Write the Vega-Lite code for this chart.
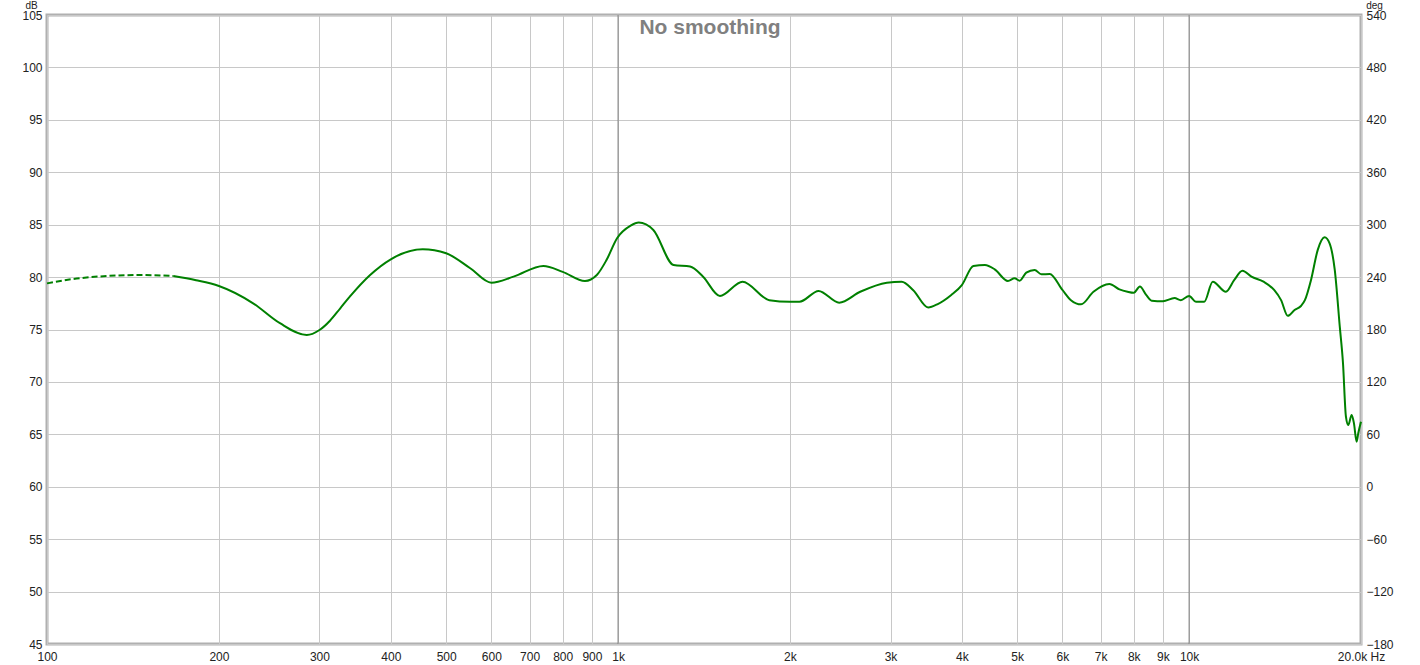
{
  "$schema": "https://vega.github.io/schema/vega-lite/v6.json",
  "width": 1314,
  "height": 629,
  "autosize": "none",
  "padding": {"left": 47, "top": 15, "right": 59, "bottom": 21},
  "background": "white",
  "config": {
    "font": "Liberation Sans",
    "view": {"stroke": "#b0b0b0", "strokeWidth": 3}
  },
  "title": {
    "text": "No smoothing",
    "fontSize": 21,
    "fontWeight": "bold",
    "color": "#808080",
    "font": "Liberation Sans",
    "anchor": "middle",
    "dx": 6,
    "offset": -38
  },
  "datasets": {
    "dashed": [
      {"f": 100, "db": 79.4},
      {"f": 111.2, "db": 79.82},
      {"f": 127.2, "db": 80.1},
      {"f": 145.5, "db": 80.2},
      {"f": 166.4, "db": 80.1}
    ],
    "solid": [
      {"f": 166.4, "db": 80.1},
      {"f": 182.4, "db": 79.7},
      {"f": 200, "db": 79.15},
      {"f": 229.6, "db": 77.5},
      {"f": 255.8, "db": 75.6},
      {"f": 285, "db": 74.47},
      {"f": 300, "db": 74.95},
      {"f": 313, "db": 75.84},
      {"f": 326, "db": 77.0},
      {"f": 339, "db": 78.13},
      {"f": 368, "db": 80.2},
      {"f": 400, "db": 81.7},
      {"f": 455, "db": 82.65},
      {"f": 500, "db": 82.27},
      {"f": 551, "db": 80.84},
      {"f": 600, "db": 79.46},
      {"f": 656, "db": 80.04},
      {"f": 740, "db": 81.06},
      {"f": 800, "db": 80.5},
      {"f": 875, "db": 79.63},
      {"f": 918, "db": 80.2},
      {"f": 954, "db": 81.6},
      {"f": 996, "db": 83.7},
      {"f": 1052, "db": 84.9},
      {"f": 1087, "db": 85.2},
      {"f": 1153, "db": 84.49},
      {"f": 1251, "db": 81.15},
      {"f": 1337, "db": 81.0},
      {"f": 1409, "db": 80.04},
      {"f": 1508, "db": 78.2},
      {"f": 1652, "db": 79.56},
      {"f": 1840, "db": 77.8},
      {"f": 2000, "db": 77.65},
      {"f": 2078, "db": 77.65},
      {"f": 2245, "db": 78.67},
      {"f": 2439, "db": 77.56},
      {"f": 2655, "db": 78.6},
      {"f": 2956, "db": 79.46},
      {"f": 3138, "db": 79.56},
      {"f": 3288, "db": 78.75},
      {"f": 3492, "db": 77.1},
      {"f": 3630, "db": 77.43},
      {"f": 3833, "db": 78.3},
      {"f": 4000, "db": 79.24},
      {"f": 4191, "db": 81.06},
      {"f": 4390, "db": 81.15},
      {"f": 4566, "db": 80.74},
      {"f": 4816, "db": 79.63},
      {"f": 4948, "db": 79.88},
      {"f": 5050, "db": 79.65},
      {"f": 5186, "db": 80.42},
      {"f": 5364, "db": 80.68},
      {"f": 5513, "db": 80.26},
      {"f": 5700, "db": 80.3},
      {"f": 6000, "db": 78.77},
      {"f": 6210, "db": 77.8},
      {"f": 6470, "db": 77.4},
      {"f": 6800, "db": 78.6},
      {"f": 7250, "db": 79.34},
      {"f": 7550, "db": 78.83},
      {"f": 7800, "db": 78.6},
      {"f": 8000, "db": 78.5},
      {"f": 8200, "db": 79.1},
      {"f": 8410, "db": 78.3},
      {"f": 8600, "db": 77.75},
      {"f": 9000, "db": 77.7},
      {"f": 9430, "db": 78.0},
      {"f": 9670, "db": 77.8},
      {"f": 10000, "db": 78.2},
      {"f": 10280, "db": 77.65},
      {"f": 10630, "db": 77.65},
      {"f": 11000, "db": 79.56},
      {"f": 11600, "db": 78.6},
      {"f": 12000, "db": 79.73},
      {"f": 12400, "db": 80.6},
      {"f": 12860, "db": 80.04},
      {"f": 13500, "db": 79.56},
      {"f": 14090, "db": 78.77},
      {"f": 14490, "db": 77.8},
      {"f": 14890, "db": 76.3},
      {"f": 15300, "db": 76.86},
      {"f": 15700, "db": 77.24},
      {"f": 15950, "db": 77.8},
      {"f": 16350, "db": 79.73},
      {"f": 16800, "db": 82.6},
      {"f": 17270, "db": 83.8},
      {"f": 17620, "db": 83.22},
      {"f": 17990, "db": 80.7},
      {"f": 18360, "db": 75.27},
      {"f": 18600, "db": 71.77},
      {"f": 18820, "db": 66.7},
      {"f": 19000, "db": 65.9},
      {"f": 19260, "db": 66.85},
      {"f": 19440, "db": 66.05},
      {"f": 19650, "db": 64.3},
      {"f": 19780, "db": 65.1},
      {"f": 20000, "db": 66.2}
    ],
    "marks": [{"f": 1000}, {"f": 10000}],
    "deg": [{"deg": -180}, {"deg": 540}]
  },
  "layer": [
    {
      "layer": [
        {
          "data": {"name": "marks"},
          "mark": {"type": "rule", "color": "#808080", "strokeWidth": 1},
          "encoding": {
            "x": {"field": "f", "type": "quantitative", "scale": {"type": "log", "domain": [100, 20000], "nice": false}}
          }
        },
        {
          "data": {"name": "dashed"},
          "mark": {"type": "line", "color": "#008000", "strokeWidth": 2, "strokeDash": [6, 3], "interpolate": "monotone"},
          "encoding": {
            "x": {"field": "f", "type": "quantitative", "scale": {"type": "log", "domain": [100, 20000], "nice": false}},
            "y": {"field": "db", "type": "quantitative"}
          }
        },
        {
          "data": {"name": "solid"},
          "mark": {"type": "line", "color": "#008000", "strokeWidth": 2, "interpolate": "monotone"},
          "encoding": {
            "x": {
              "field": "f",
              "type": "quantitative",
              "scale": {"type": "log", "domain": [100, 20000], "nice": false},
              "axis": {
                "title": null,
                "values": [100, 200, 300, 400, 500, 600, 700, 800, 900, 1000, 2000, 3000, 4000, 5000, 6000, 7000, 8000, 9000, 10000, 20000],
                "labelExpr": "datum.value == 20000 ? '20.0k Hz' : (datum.value >= 1000 ? (datum.value / 1000) + 'k' : '' + datum.value)",
                "grid": true,
                "gridColor": "#c8c8c8",
                "gridWidth": 1,
                "domain": false,
                "ticks": false,
                "labelFontSize": 12,
                "labelColor": "#222222",
                "labelPadding": 7,
                "labelFlush": false,
                "labelOverlap": false,
                "labelBound": false
              }
            },
            "y": {
              "field": "db",
              "type": "quantitative",
              "scale": {"domain": [45, 105], "nice": false, "zero": false},
              "axis": {
                "title": "dB",
                "titleAngle": 0,
                "titleX": -16,
                "titleY": -15,
                "titleAlign": "center",
                "titleBaseline": "top",
                "titleFontSize": 10,
                "titleFontWeight": "normal",
                "titleColor": "#222222",
                "values": [45, 50, 55, 60, 65, 70, 75, 80, 85, 90, 95, 100, 105],
                "grid": true,
                "gridColor": "#c8c8c8",
                "gridWidth": 1,
                "domain": false,
                "ticks": false,
                "labelFontSize": 12,
                "labelColor": "#222222",
                "labelPadding": 5,
                "labelFlush": false,
                "labelOverlap": false
              }
            }
          }
        }
      ]
    },
    {
      "data": {"name": "deg"},
      "mark": {"type": "point", "opacity": 0},
      "encoding": {
        "y": {
          "field": "deg",
          "type": "quantitative",
          "scale": {"domain": [-180, 540], "nice": false, "zero": false},
          "axis": {
            "orient": "right",
            "title": "deg",
            "titleAngle": 0,
            "titleX": 13,
            "titleY": -15,
            "titleAlign": "center",
            "titleBaseline": "top",
            "titleFontSize": 10,
            "titleFontWeight": "normal",
            "titleColor": "#222222",
            "values": [-180, -120, -60, 0, 60, 120, 180, 240, 300, 360, 420, 480, 540],
            "grid": false,
            "domain": false,
            "ticks": false,
            "labelFontSize": 12,
            "labelColor": "#222222",
            "labelPadding": 5,
            "labelFlush": false,
            "labelOverlap": false
          }
        }
      }
    }
  ],
  "resolve": {"scale": {"y": "independent"}}
}
